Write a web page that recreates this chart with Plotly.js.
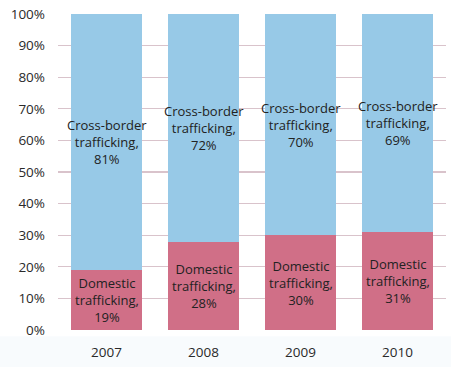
<!DOCTYPE html>
<html><head><meta charset="utf-8">
<script src="https://cdn.plot.ly/plotly-3.0.1.min.js"></script>
<style>body{margin:0;background:#fff}#c{width:451px;height:367px}</style>
</head><body><div id="c"></div>
<script>
const years = ['2007', '2008', '2009', '2010'];
const domestic = [19, 28, 30, 31];
const crossBorder = [81, 72, 70, 69];
const domesticLabel = 'Domestic<br>trafficking,';
const crossLabel = 'Cross-border<br>trafficking,';
const yTicks = [0,10,20,30,40,50,60,70,80,90,100];

const font = {family: 'Open Sans, sans-serif', size: 13.5, color: '#2a2a2a'};
const labelFont = {family: 'Open Sans, sans-serif', size: 13, color: '#222'};
const traces = [
  {type:'bar', x: years, y: domestic, name:'Domestic',
   marker:{color:'#D06F87'}, hoverinfo:'none'},
  {type:'bar', x: years, y: crossBorder, name:'Cross-border',
   marker:{color:'#97C9E7'}, hoverinfo:'none'}
];
const annotations = [];
years.forEach((yr, i) => {
  annotations.push({x: i, y: domestic[i] / 2, xref:'x', yref:'y',
    text: domesticLabel + '<br>' + domestic[i] + '%', showarrow:false,
    font: labelFont, align:'center'});
  annotations.push({x: i, y: domestic[i] + crossBorder[i] / 2, xref:'x', yref:'y',
    text: crossLabel + '<br>' + crossBorder[i] + '%', showarrow:false,
    font: labelFont, align:'center'});
});
const layout = {
  width:451, height:367, barmode:'stack', bargap:0.27, showlegend:false,
  margin:{l:58, r:5, t:14, b:37},
  paper_bgcolor:'#fff', plot_bgcolor:'#fff',
  xaxis:{type:'category', categoryarray: years, tickfont:font, ticks:'', showline:false, showgrid:false,
         ticklabelstandoff:12, fixedrange:true},
  yaxis:{range:[0,100], tickvals:yTicks, ticktext:yTicks.map(v=>v+'%'),
         tickfont:font, gridcolor:'#D9C3CB', gridwidth:1.2, zeroline:false,
         showline:false, ticklabelstandoff:12, fixedrange:true},
  shapes:[{type:'rect', xref:'paper', yref:'paper', x0:-0.15, x1:1.02, y0:-0.12, y1:-0.02,
           fillcolor:'rgba(235,243,249,0.35)', line:{width:0}, layer:'below'}],
  annotations: annotations,
  font: font
};
Plotly.newPlot('c', traces, layout, {displayModeBar:false, staticPlot:true});
</script></body></html>
